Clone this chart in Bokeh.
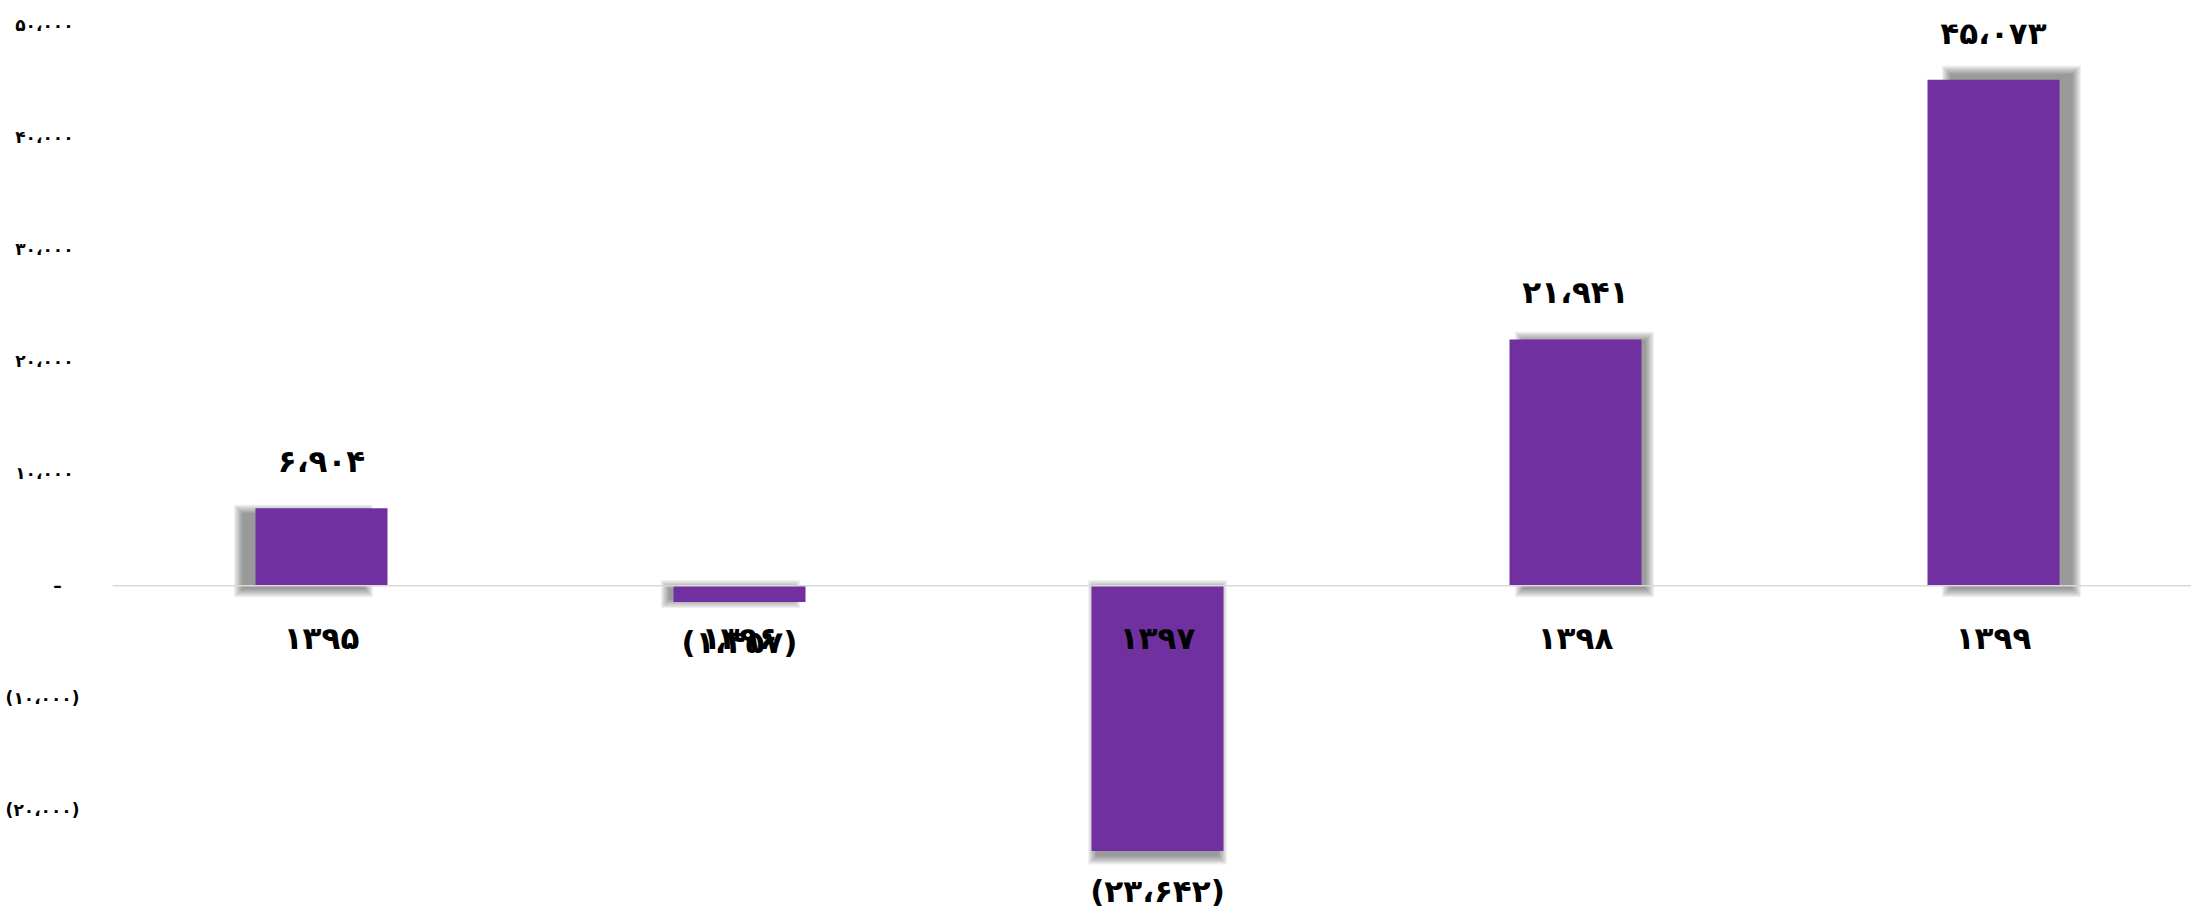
import numpy as np
from bokeh.plotting import figure
from bokeh.models import ColumnDataSource, Range1d, FixedTicker, CustomJSTickFormatter, Span
from bokeh.core.properties import value
from bokeh.embed import file_html
from bokeh.resources import INLINE

# ---- data ----
categories = ["۱۳۹۵", "۱۳۹۶", "۱۳۹۷", "۱۳۹۸", "۱۳۹۹"]
values = [6904, -1457, -23642, 21941, 45073]
y_ticks = [-30000, -20000, -10000, 0, 10000, 20000, 30000, 40000, 50000]

PERSIAN = "۰۱۲۳۴۵۶۷۸۹"


def fa_num(v):
    s = f"{abs(int(round(v))):,}".replace(",", "،")
    s = "".join(PERSIAN[int(c)] if c.isdigit() else c for c in s)
    return f"({s})" if v < 0 else s


FONT = value("DejaVu Sans")
BAR_COLOR = "#7030A0"

x = np.arange(len(categories), dtype=float)
vals = np.array(values, dtype=float)

W, H = 2191, 914
LEFT, TOP = 112, 24
frame_w_px = W - LEFT
frame_h_px = H - TOP
x_lo = -0.5
x_hi = x_lo + frame_w_px / 418.0
y_lo, y_hi = -29300, 50000
px_x = (x_hi - x_lo) / frame_w_px
px_y = (y_hi - y_lo) / frame_h_px

p = figure(width=W, height=H, output_backend="svg", toolbar_location=None,
           x_range=Range1d(x_lo, x_hi), y_range=Range1d(y_lo, y_hi),
           x_axis_location=None, min_border_left=LEFT, min_border_right=0,
           min_border_top=TOP, min_border_bottom=0)
p.outline_line_color = None
p.xgrid.visible = False
p.ygrid.visible = False
p.background_fill_color = "white"
p.border_fill_color = "white"

bar_w = 132 * px_x

# soft perspective shadow behind bars (layered to imitate blur)
center = (len(categories) - 1) / 2
shift = (x - center) * 9 * px_x
s_left = x - bar_w / 2 + shift
s_right = x + bar_w / 2 + shift
s_top = np.where(vals > 0, vals * 1.025 - 2 * px_y, 2 * px_y)
s_bottom = np.where(vals > 0, -8 * px_y, vals * 1.03 - 2 * px_y)
for k in range(8):
    e = (k - 4) * 1.2
    p.quad(left=s_left - e * px_x, right=s_right + e * px_x,
           top=s_top + e * px_y, bottom=s_bottom - e * px_y,
           fill_color="black", fill_alpha=0.06, line_color=None)

# zero line
p.add_layout(Span(location=0, dimension="width", line_color="#d9d9d9", line_width=1.5))

src = ColumnDataSource(dict(x=x, top=np.maximum(vals, 0), bottom=np.minimum(vals, 0),
                            v=vals, lab=[fa_num(v) for v in values],
                            cat=categories,
                            off=[-47 if v > 0 else 40 for v in values]))
p.vbar(x="x", width=bar_w, top="top", bottom="bottom", source=src,
       fill_color=BAR_COLOR, line_color=None)

# data labels
p.text(x="x", y="v", text="lab", y_offset="off", source=src, text_font=FONT,
       text_font_style="bold", text_font_size="31px", text_align="center",
       text_baseline="middle", text_color="black")

# category labels next to the zero line
p.text(x="x", y=0, text="cat", y_offset=52, source=src, text_font=FONT,
       text_font_style="bold", text_font_size="31px", text_align="center",
       text_baseline="middle", text_color="black")

# y axis
yax = p.yaxis[0]
yax.ticker = FixedTicker(ticks=y_ticks)
yax.formatter = CustomJSTickFormatter(code="""
const d='۰۱۲۳۴۵۶۷۸۹';
const a=Math.abs(Math.round(tick));
if(a===0) return '–\\u00a0\\u00a0\\u00a0';
let s=a.toString().replace(/\\B(?=(\\d{3})+(?!\\d))/g,'،');
s=s.replace(/\\d/g,c=>d[+c]);
return tick<0?'('+s+')':s+'\\u00a0';
""")
yax.axis_line_color = None
yax.major_tick_line_color = None
yax.minor_tick_line_color = None
yax.major_label_text_font = "DejaVu Sans"
yax.major_label_text_font_style = "bold"
yax.major_label_text_font_size = "17px"
yax.major_label_text_color = "black"
yax.major_label_standoff = 27

open("out.html", "w").write(file_html(p, INLINE))
